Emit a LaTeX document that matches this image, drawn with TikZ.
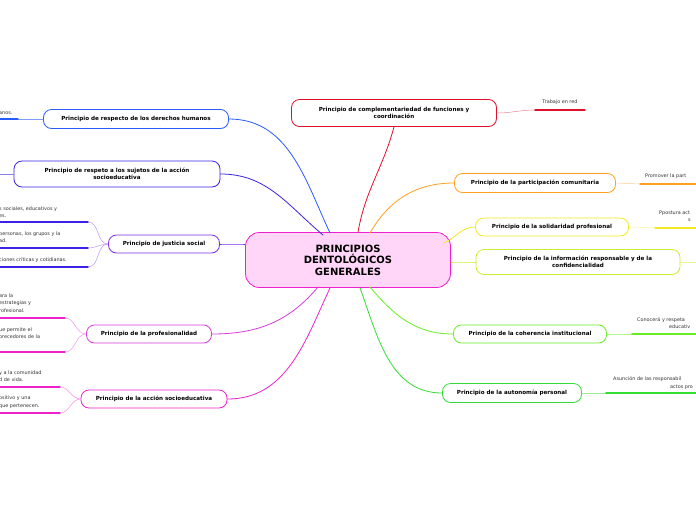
\documentclass[tikz,border=0pt]{standalone}
\usepackage{fontspec}
\setmainfont{DejaVu Sans}
\definecolor{cred}{HTML}{E0102A}
\definecolor{cblue}{HTML}{2A5BFF}
\definecolor{cindigo}{HTML}{3A22E6}
\definecolor{cviolet}{HTML}{7A2EE8}
\definecolor{cmagenta}{HTML}{D83ADB}
\definecolor{cpink}{HTML}{EE22CC}
\definecolor{corange}{HTML}{FFA020}
\definecolor{cyellow}{HTML}{F2EA20}
\definecolor{clime}{HTML}{C8F030}
\definecolor{cgreen}{HTML}{66EE22}
\definecolor{cgreenb}{HTML}{33DD33}
\tikzset{
  mainbox/.style={draw=#1, line width=0.8pt, rounded corners=8pt, fill=white, align=center,
    font=\fontsize{5.6}{6.8}\selectfont\bfseries, inner sep=0pt},
  branch/.style={draw=#1, line width=0.8pt},
  leafline/.style={draw=#1, line width=1.4pt},
  leaftext/.style={font=\fontsize{4.9}{7.4}\selectfont, text=black!80, align=left, inner sep=0pt}
}
\begin{document}
\begin{tikzpicture}[x=1pt,y=-1pt,line cap=round]
\useasboundingbox (0,0) rectangle (696,520);
\clip (0,0) rectangle (696,520);
% centre
\node[draw=cpink, line width=0.8pt, rounded corners=14pt, fill=pink!45!magenta!25, minimum width=205pt, minimum height=55pt,
  align=center, font=\fontsize{10}{11.5}\selectfont\bfseries] (c) at (348,260) {PRINCIPIOS\\DENTOLÓGICOS\\GENERALES};
% main topics
\node[mainbox=cred, minimum width=205pt, minimum height=27pt] (comp) at (394,113) {Principio de complementariedad de funciones y\\coordinación};
\node[mainbox=cblue, minimum width=185pt, minimum height=19pt] (dh) at (136,119) {Principio de respecto de los derechos humanos};
\node[mainbox=cindigo, minimum width=206pt, minimum height=26pt] (suj) at (117,174) {Principio de respeto a los sujetos de la acción\\socioeducativa};
\node[mainbox=cviolet, minimum width=111pt, minimum height=18pt] (jus) at (164,244) {Principio de justicia social};
\node[mainbox=cmagenta, minimum width=125pt, minimum height=18pt] (pro) at (149,334) {Principio de la profesionalidad};
\node[mainbox=cpink, minimum width=146pt, minimum height=18pt] (acc) at (154,399) {Principio de la acción socioeducativa};
\node[mainbox=corange, minimum width=161pt, minimum height=19pt] (par) at (535,183) {Principio de la participación comunitaria};
\node[mainbox=cyellow, minimum width=153pt, minimum height=18pt] (sol) at (552,227) {Principio de la solidaridad profesional};
\node[mainbox=clime, minimum width=204pt, minimum height=25pt] (inf) at (578,262) {Principio de la información responsable y de la\\confidencialidad};
\node[mainbox=cgreen, minimum width=153pt, minimum height=18pt] (coh) at (530,334) {Principio de la coherencia institucional};
\node[mainbox=cgreenb, minimum width=139pt, minimum height=19pt] (aut) at (512,393) {Principio de la autonomía personal};
% branches from centre
\draw[branch=cred] (c.north) ++(10,0) to[out=80,in=-105] (comp.south);
\draw[branch=cblue] (330,233) to[out=115,in=0] (dh.east);
\draw[branch=cindigo] (323,235) to[out=140,in=0] (suj.east);
\draw[branch=cviolet] (c.west) ++(0,-16) to[out=180,in=0] (jus.east);
\draw[branch=cmagenta] (318,287) to[out=-130,in=0] (pro.east);
\draw[branch=cpink] (330,288) to[out=-115,in=0] (acc.east);
\draw[branch=corange] (370,233) to[out=60,in=180] (par.west);
\draw[branch=cyellow] (444,243) to[out=25,in=180] (sol.west);
\draw[branch=clime] (c.east) ++(0,2) to[out=0,in=180] (inf.west);
\draw[branch=cgreen] (370,287) to[out=-50,in=180] (coh.west);
\draw[branch=cgreenb] (360,288) to[out=-70,in=180] (aut.west);
% leaves right
\coordinate (trA) at (535,110); \coordinate (trB) at (585,110);
\draw[branch=cred!50, line width=0.5pt] (comp.east) to[out=0,in=180] (trA);
\draw[leafline=cred] (trA) -- (trB);
\node[leaftext, anchor=south] (tr) at (560,105) {Trabajo en red};
\coordinate (paA) at (640,184); \coordinate (paB) at (700,184);
\draw[branch=corange!50, line width=0.5pt] (par.east) -- (paA);
\draw[leafline=corange] (paA) -- (paB);
\node[leaftext, anchor=west] (pat) at (645,176) {Promover la part};
\coordinate (soA) at (655,228); \coordinate (soB) at (700,228);
\draw[branch=cyellow!50, line width=0.5pt] (sol.east) to[out=0,in=180] (soA);
\draw[leafline=cyellow] (soA) -- (soB);
\node[leaftext, anchor=west] (sot) at (659,216) {Ppostura act\\\hspace*{29pt}s};
\coordinate (inA) at (700,262);
\draw[branch=clime!50, line width=0.5pt] (inf.east) -- (inA);
\coordinate (coA) at (632,334); \coordinate (coB) at (700,334);
\draw[branch=cgreen!50, line width=0.5pt] (coh.east) -- (coA);
\draw[leafline=cgreen] (coA) -- (coB);
\node[leaftext, anchor=west] (cot) at (637,323) {Conocerá y respeta\\\hspace*{32pt}educativ};
\coordinate (auA) at (606,393); \coordinate (auB) at (700,393);
\draw[branch=cgreenb!50, line width=0.5pt] (aut.east) -- (auA);
\draw[leafline=cgreenb] (auA) -- (auB);
\node[leaftext, anchor=west] (aut2) at (613,383) {Asunción de las responsabil\\\hspace*{57pt}actos pro};
% leaves left
\coordinate (dhA) at (18,119);
\draw[branch=cblue!60, line width=0.5pt] (dh.west) -- (dhA);
\draw[leafline=cblue] (-5,119) -- (dhA);
\node[leaftext, anchor=west] (dht) at (-1,113) {anos.};
\coordinate (suA) at (-5,174);
\draw[branch=cindigo!60, line width=0.5pt] (suj.west) -- (suA);
\coordinate (j1) at (88,222); \coordinate (j2) at (88,248); \coordinate (j3) at (88,267);
\foreach \p in {j1,j2,j3} {
  \draw[branch=cviolet!50, line width=0.5pt] (jus.west) to[out=180,in=0] (\p);
  \draw[leafline=cindigo] (-5,0 |- \p) -- (\p);
}
\node[leaftext, anchor=west] (jt1) at (-1,212) {s sociales, educativos y\\es.};
\node[leaftext, anchor=west] (jt2) at (-1,237) {personas, los grupos y la\\ad.};
\node[leaftext, anchor=west] (jt3) at (-1,260) {ciones críticas y cotidianas.};
\coordinate (p1) at (65,318); \coordinate (p2) at (65,352);
\foreach \p in {p1,p2} {
  \draw[branch=cmagenta!50, line width=0.5pt] (pro.west) to[out=180,in=0] (\p);
  \draw[leafline=cpink] (-5,0 |- \p) -- (\p);
}
\node[leaftext, anchor=west] (pt1) at (-1,303) {ara la\\estrategias y\\rofesional.};
\node[leaftext, anchor=west] (pt2) at (-1,337) {ue permite el\\orecedores de la\\.};
\coordinate (a1) at (60,387); \coordinate (a2) at (60,413);
\foreach \p in {a1,a2} {
  \draw[branch=cpink!50, line width=0.5pt] (acc.west) to[out=180,in=0] (\p);
  \draw[leafline=cpink] (-5,0 |- \p) -- (\p);
}
\node[leaftext, anchor=west] (at1) at (-1,376) {y a la comunidad\\d de vida.};
\node[leaftext, anchor=west] (at2) at (-1,402) {ositivo y una\\que pertenecen.};
\end{tikzpicture}
\end{document}
